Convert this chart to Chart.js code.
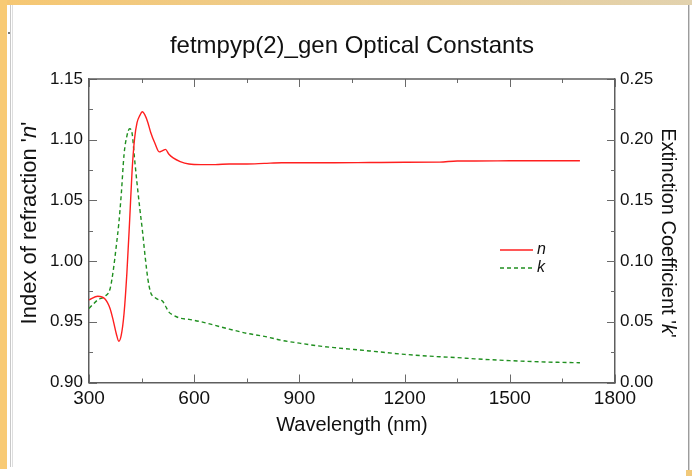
<!DOCTYPE html>
<html>
<head>
<meta charset="utf-8">
<script src="https://cdn.jsdelivr.net/npm/chart.js@4/dist/chart.umd.min.js"></script>
<style>
  html, body { margin: 0; padding: 0; background: #fff; }
  #wrap { width: 692px; height: 476px; }
</style>
</head>
<body>
<div id="wrap"><canvas id="c" width="692" height="476"></canvas></div>
<script>
// Wavelength grid (nm) shared by both optical constants
const wavelength = [300, 325, 345, 360, 370, 378, 385, 392, 400, 408, 416, 423, 430, 437, 445, 452, 460, 468, 476, 488,
  500, 510, 518, 528, 540, 560, 585, 620, 660, 700, 750, 800, 850, 900, 950, 1000, 1100, 1200, 1300, 1350,
  1400, 1500, 1600, 1700];

// Index of refraction n
const nValues = [0.968, 0.971, 0.969, 0.961, 0.950, 0.940, 0.934, 0.939, 0.957, 0.990, 1.034, 1.075, 1.101, 1.114, 1.120, 1.123, 1.120, 1.114, 1.106, 1.097,
  1.090, 1.091, 1.092, 1.088, 1.085, 1.082, 1.080, 1.0795, 1.0795, 1.080, 1.080, 1.0805, 1.081, 1.081, 1.081, 1.081, 1.0812, 1.0814, 1.0815, 1.0825,
  1.0825, 1.0826, 1.0827, 1.0827];

// Extinction coefficient k
const kValues = [0.061, 0.068, 0.071, 0.077, 0.094, 0.113, 0.131, 0.155, 0.188, 0.203, 0.209, 0.205, 0.184, 0.164, 0.143, 0.126, 0.104, 0.085, 0.074, 0.070,
  0.068, 0.067, 0.063, 0.058, 0.0555, 0.053, 0.052, 0.050, 0.047, 0.044, 0.0405, 0.038, 0.0347, 0.0324, 0.0303, 0.0287, 0.0260, 0.0232, 0.0212, 0.0205,
  0.0195, 0.0180, 0.0169, 0.0163];

// Axis tick labels
const xTicks = [300, 600, 900, 1200, 1500, 1800];
const nTicks = [0.90, 0.95, 1.00, 1.05, 1.10, 1.15];
const kTicks = [0.00, 0.05, 0.10, 0.15, 0.20, 0.25];

const FONT = "'Liberation Sans', Arial, sans-serif";
const AXIS = '#5e5e5e';
const RED = '#ff1f1f';
const GREEN = '#1f8f1f';

function setTicks(list) {
  return scale => { scale.ticks = list.map(v => ({ value: v })); };
}

// Draws a run of text pieces (some italic) centred on the origin
function drawParts(ctx, parts, size) {
  const fontOf = p => (p.italic ? 'italic ' : '') + size + 'px ' + FONT;
  let total = 0;
  parts.forEach(p => { ctx.font = fontOf(p); p.w = ctx.measureText(p.text).width; total += p.w; });
  let x = -total / 2;
  ctx.textAlign = 'left';
  ctx.textBaseline = 'middle';
  parts.forEach(p => { ctx.font = fontOf(p); ctx.fillText(p.text, x, 0); x += p.w; });
}

// Window frame around the figure
const frame = {
  id: 'frame',
  beforeDraw(chart) {
    const { ctx, width: W, height: H } = chart;
    ctx.save();
    ctx.fillStyle = '#ffffff';
    ctx.fillRect(0, 0, W, H);
    const g = ctx.createLinearGradient(0, 0, W, 0);
    g.addColorStop(0, '#f6c772');
    g.addColorStop(1, '#e2d2ae');
    ctx.fillStyle = g;
    ctx.fillRect(0, 0, W, 5);
    ctx.fillStyle = '#f8ca74';
    ctx.fillRect(0, 0, 7, 469);
    ctx.fillStyle = '#c9c9c9';
    ctx.fillRect(10, 5, 1, 462);
    ctx.fillStyle = '#dedede';
    ctx.fillRect(12, 5, 1, 462);
    ctx.fillStyle = '#7a7a7a';
    ctx.fillRect(8, 32, 2, 2);
    ctx.fillStyle = '#9c9c9c';
    ctx.fillRect(688, 5, 1, 465);
    ctx.fillStyle = '#d4d4d4';
    ctx.fillRect(689, 5, 1, 465);
    ctx.fillStyle = '#f1c97a';
    ctx.fillRect(686, 470, 6, 6);
    ctx.restore();
  }
};

// Inward tick marks, top border, rotated axis titles and the in-plot legend
const decor = {
  id: 'decor',
  afterDraw(chart) {
    const { ctx, chartArea: a, scales } = chart;
    const x = scales.x, y = scales.y;
    ctx.save();
    ctx.strokeStyle = '#6a6a6a';
    ctx.lineWidth = 1;
    const seg = (x1, y1, x2, y2) => { ctx.beginPath(); ctx.moveTo(x1, y1); ctx.lineTo(x2, y2); ctx.stroke(); };
    for (let i = 0; i <= 10; i++) {
      const len = i % 2 ? 4 : 8;
      const px = Math.round(x.getPixelForValue(x.min + i * (x.max - x.min) / 10)) + 0.5;
      seg(px, a.bottom, px, a.bottom - len);
      seg(px, a.top, px, a.top + len);
      const py = Math.round(y.getPixelForValue(y.min + i * (y.max - y.min) / 10)) + 0.5;
      seg(a.left, py, a.left + len, py);
      seg(a.right, py, a.right - len, py);
    }
    ctx.strokeStyle = AXIS;
    ctx.lineWidth = 1.5;
    seg(a.left, a.top, a.right, a.top);

    ctx.fillStyle = '#111';
    ctx.save();
    ctx.translate(30, 223);
    ctx.rotate(-Math.PI / 2);
    drawParts(ctx, [{ text: "Index of refraction '" }, { text: 'n', italic: true }, { text: "'" }], 22);
    ctx.restore();
    ctx.save();
    ctx.translate(668, 233);
    ctx.rotate(Math.PI / 2);
    drawParts(ctx, [{ text: "Extinction Coefficient '" }, { text: 'k', italic: true }, { text: "'" }], 20);
    ctx.restore();

    const ds = chart.data.datasets;
    const rows = [250, 268];
    ds.forEach((d, i) => {
      ctx.strokeStyle = d.borderColor;
      ctx.lineWidth = 1.4;
      ctx.setLineDash(d.borderDash || []);
      seg(500, rows[i], 533, rows[i]);
      ctx.setLineDash([]);
      ctx.font = 'italic 16px ' + FONT;
      ctx.textAlign = 'left';
      ctx.textBaseline = 'middle';
      ctx.fillStyle = '#111';
      ctx.fillText(d.label, 537, rows[i]);
    });
    ctx.restore();
  }
};

new Chart(document.getElementById('c'), {
  type: 'line',
  data: {
    datasets: [
      {
        label: 'n',
        data: wavelength.map((w, i) => ({ x: w, y: nValues[i] })),
        yAxisID: 'y',
        borderColor: RED,
        borderWidth: 1.4,
        pointRadius: 0,
        cubicInterpolationMode: 'monotone',
        fill: false
      },
      {
        label: 'k',
        data: wavelength.map((w, i) => ({ x: w, y: kValues[i] })),
        yAxisID: 'yk',
        borderColor: GREEN,
        borderWidth: 1.4,
        borderDash: [4, 3],
        pointRadius: 0,
        cubicInterpolationMode: 'monotone',
        fill: false
      }
    ]
  },
  options: {
    responsive: false,
    animation: false,
    devicePixelRatio: 1,
    layout: { padding: 0 },
    plugins: {
      legend: { display: false },
      tooltip: { enabled: false },
      title: {
        display: true,
        text: 'fetmpyp(2)_gen Optical Constants',
        fullSize: false,
        color: '#111',
        font: { family: FONT, size: 24, weight: 'normal' },
        padding: { top: 31.6, bottom: 18.6 }
      }
    },
    scales: {
      x: {
        type: 'linear',
        min: xTicks[0],
        max: xTicks[xTicks.length - 1],
        afterBuildTicks: setTicks(xTicks),
        afterFit: s => { s.height = 93.5; },
        grid: { display: false, drawTicks: false },
        border: { display: true, color: AXIS, width: 1.5 },
        ticks: { color: '#111', padding: 5, font: { family: FONT, size: 19 }, callback: v => String(v), maxRotation: 0 },
        title: { display: true, text: 'Wavelength (nm)', color: '#111', font: { family: FONT, size: 20 }, padding: { top: 0, bottom: 39 } }
      },
      y: {
        position: 'left',
        min: nTicks[0],
        max: nTicks[nTicks.length - 1],
        afterBuildTicks: setTicks(nTicks),
        afterFit: s => { s.width = 89; },
        grid: { display: false, drawTicks: false },
        border: { display: true, color: AXIS, width: 1.5 },
        ticks: { color: '#111', padding: 6, font: { family: FONT, size: 17 }, callback: v => Number(v).toFixed(2) }
      },
      yk: {
        position: 'right',
        min: kTicks[0],
        max: kTicks[kTicks.length - 1],
        afterBuildTicks: setTicks(kTicks),
        afterFit: s => { s.width = 77; },
        grid: { display: false, drawTicks: false },
        border: { display: true, color: AXIS, width: 1.5 },
        ticks: { color: '#111', padding: 5, font: { family: FONT, size: 17 }, callback: v => Number(v).toFixed(2) }
      }
    }
  },
  plugins: [frame, decor]
});
</script>
</body>
</html>
